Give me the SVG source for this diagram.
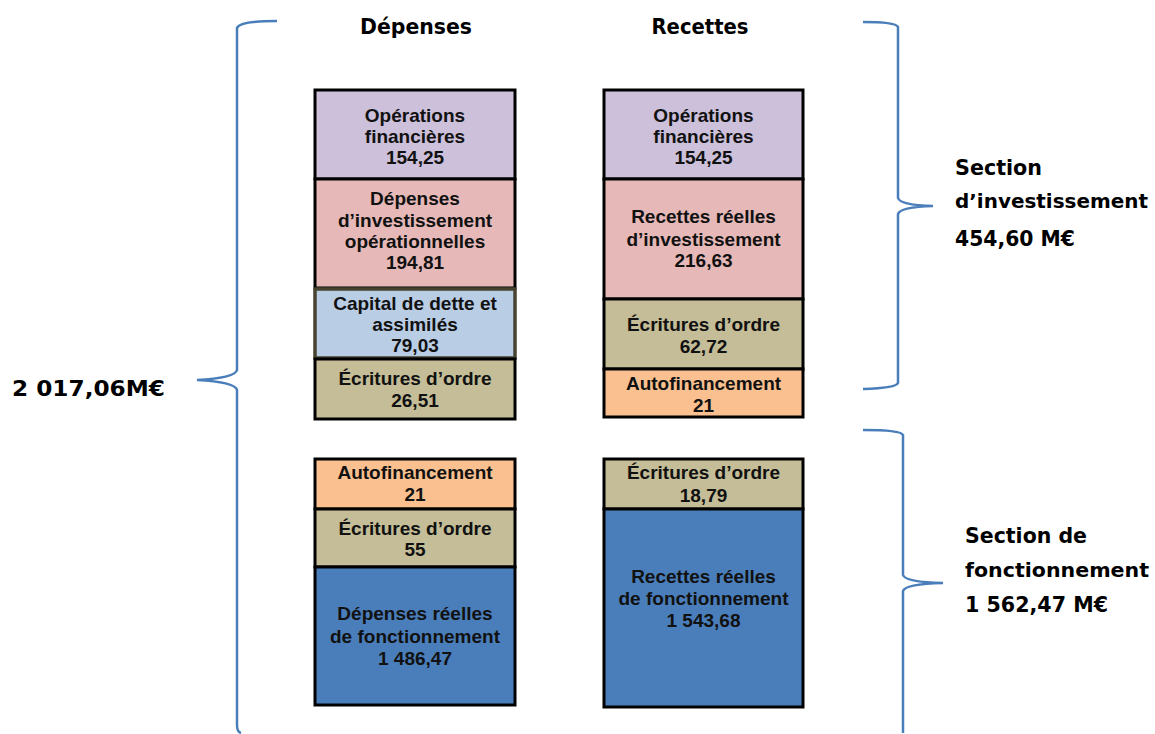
<svg xmlns="http://www.w3.org/2000/svg" width="1155" height="734" viewBox="0 0 1155 734">
<style>
.b{stroke:#000;stroke-width:3}
.t{font-family:"Liberation Sans",Arial,sans-serif;font-weight:bold;font-size:19px;fill:#111;text-anchor:middle}
.h{font-family:"DejaVu Sans",sans-serif;font-weight:bold;font-size:21px;fill:#000}
.s{font-size:20px}
.br{fill:none;stroke:#4A7EBB;stroke-width:2.5}
.pu{fill:#CCC0DA}.pk{fill:#E6B9B8}.lb{fill:#B9CDE5}.ol{fill:#C4BD97}.or{fill:#FAC090}.bl{fill:#4A7EBB}
</style>
<rect width="1155" height="734" fill="#fff"/>
<text class="h" x="416" y="34" text-anchor="middle" textLength="112" lengthAdjust="spacingAndGlyphs">Dépenses</text>
<text class="h" x="700" y="34" text-anchor="middle" textLength="97" lengthAdjust="spacingAndGlyphs">Recettes</text>

<g id="d-opfin"><rect class="b pu" x="315" y="90" width="200" height="89"/>
<text class="t" x="415" y="122">Opérations</text><text class="t" x="415" y="143">financières</text><text class="t" x="415" y="164">154,25</text></g>
<g id="d-invop"><rect class="b pk" x="315" y="179" width="200" height="109"/>
<text class="t" x="415" y="205">Dépenses</text><text class="t" x="415" y="227">d’investissement</text><text class="t" x="415" y="248">opérationnelles</text><text class="t" x="415" y="269">194,81</text></g>
<g id="d-capital"><rect x="315" y="289" width="200" height="69" fill="#B9CDE5" stroke="#474330" stroke-width="3.5"/>
<text class="t" x="415" y="310">Capital de dette et</text><text class="t" x="415" y="331">assimilés</text><text class="t" x="415" y="352">79,03</text></g>
<g id="d-ordre"><rect class="b ol" x="315" y="359" width="200" height="60"/>
<text class="t" x="415" y="385">Écritures d’ordre</text><text class="t" x="415" y="407">26,51</text></g>

<g id="r-opfin"><rect class="b pu" x="604" y="90" width="199" height="89"/>
<text class="t" x="703.5" y="122">Opérations</text><text class="t" x="703.5" y="143">financières</text><text class="t" x="703.5" y="164">154,25</text></g>
<g id="r-inv"><rect class="b pk" x="604" y="179" width="199" height="120"/>
<text class="t" x="703.5" y="223">Recettes réelles</text><text class="t" x="703.5" y="246">d’investissement</text><text class="t" x="703.5" y="267">216,63</text></g>
<g id="r-ordre"><rect class="b ol" x="604" y="299" width="199" height="70"/>
<text class="t" x="703.5" y="331">Écritures d’ordre</text><text class="t" x="703.5" y="353">62,72</text></g>
<g id="r-autofin"><rect class="b or" x="604" y="369" width="199" height="48"/>
<text class="t" x="703.5" y="390">Autofinancement</text><text class="t" x="703.5" y="412">21</text></g>

<g id="d-autofin"><rect class="b or" x="315" y="459" width="200" height="50"/>
<text class="t" x="415" y="479">Autofinancement</text><text class="t" x="415" y="501">21</text></g>
<g id="d-ordre2"><rect class="b ol" x="315" y="509" width="200" height="58"/>
<text class="t" x="415" y="535">Écritures d’ordre</text><text class="t" x="415" y="556">55</text></g>
<g id="d-fonct"><rect class="b bl" x="315" y="567" width="200" height="138"/>
<text class="t" x="415" y="620">Dépenses réelles</text><text class="t" x="415" y="643">de fonctionnement</text><text class="t" x="415" y="665">1 486,47</text></g>

<g id="r-ordre2"><rect class="b ol" x="604" y="459" width="199" height="50"/>
<text class="t" x="703.5" y="479">Écritures d’ordre</text><text class="t" x="703.5" y="502">18,79</text></g>
<g id="r-fonct"><rect class="b bl" x="604" y="509" width="199" height="198"/>
<text class="t" x="703.5" y="583">Recettes réelles</text><text class="t" x="703.5" y="605">de fonctionnement</text><text class="t" x="703.5" y="627">1 543,68</text></g>

<g id="connectors">
<path class="br" d="M277,21 Q240,21 237,28 L237,370 Q235,378 197,380 Q235,382 237,390 L237,725 Q237,732 241,733"/>
<path class="br" d="M863,22 Q896,22 898,27 L898,198 Q900,205 933,206 Q900,207 898,214 L898,383 Q896,388 863,389"/>
<path class="br" d="M863,430 Q901,430 903,435 L903,575 Q905,582 943,583 Q905,584 903,591 L903,733"/>
</g>

<text class="h" x="12" y="396" textLength="153" lengthAdjust="spacingAndGlyphs">2 017,06M€</text>
<text class="h" x="955" y="175" textLength="87" lengthAdjust="spacingAndGlyphs">Section</text>
<text class="h s" x="955" y="208" textLength="193" lengthAdjust="spacingAndGlyphs">d’investissement</text>
<text class="h" x="955" y="246" textLength="120" lengthAdjust="spacingAndGlyphs">454,60 M€</text>
<text class="h" x="965" y="543" textLength="122" lengthAdjust="spacingAndGlyphs">Section de</text>
<text class="h s" x="965" y="577" textLength="184" lengthAdjust="spacingAndGlyphs">fonctionnement</text>
<text class="h" x="965" y="612" textLength="143" lengthAdjust="spacingAndGlyphs">1 562,47 M€</text>
</svg>
